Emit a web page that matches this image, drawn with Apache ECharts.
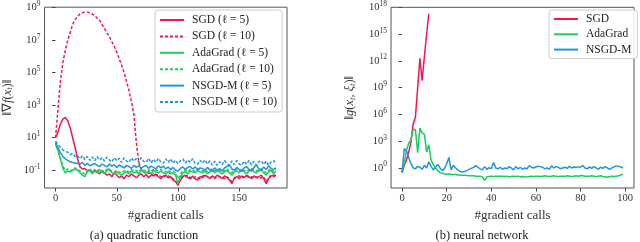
<!DOCTYPE html>
<html><head><meta charset="utf-8">
<script src="https://cdn.jsdelivr.net/npm/echarts@6/dist/echarts.min.js"></script>
<style>html,body{margin:0;padding:0;background:#fff}#c{width:640px;height:242px}</style>
</head><body><div id="c"></div><script>
// ---------- data: left panel (quadratic function) ----------
const xLeft = [0,2,4,6,8,10,12,14,16,18,20,22,24,26,28,30,32,34,36,38,40,42,44,46,48,50,52,54,56,58,60,62,64,66,68,70,72,74,76,78,80,82,84,86,88,90,92,94,96,98,100,102,104,106,108,110,112,114,116,118,120,122,124,126,128,130,132,134,136,138,140,142,144,146,148,150,152,154,156,158,160,162,164,166,168,170,172,174,176,178,180];
const sgd5 = [10,22,70,140,175,110,40,10,2.5,0.5,
  0.16,0.12,0.13,0.09,0.11,0.07,0.1,0.08,0.06,0.09,
  0.07,0.05,0.06,0.04,0.07,0.05,0.035,0.045,0.03,0.05,
  0.04,0.06,0.045,0.035,0.05,0.06,0.04,0.055,0.035,0.05,
  0.045,0.06,0.04,0.03,0.045,0.05,0.035,0.04,0.025,0.02,
  0.012,0.025,0.04,0.05,0.035,0.03,0.045,0.03,0.025,0.04,
  0.035,0.05,0.04,0.03,0.045,0.035,0.05,0.04,0.03,0.045,
  0.035,0.025,0.015,0.035,0.04,0.03,0.045,0.035,0.05,0.04,
  0.03,0.045,0.035,0.04,0.05,0.03,0.015,0.03,0.045,0.05,
  0.05];
const sgd10 = [10,600,3e4,4e5,2.5e6,1e7,3e7,9e7,1.8e8,2.8e8,
  4e8,4.8e8,5.2e8,5.2e8,4.8e8,4e8,3.2e8,2.2e8,1.6e8,9e7,
  5e7,2.8e7,1.6e7,8e6,4e6,1.8e6,7e5,2.8e5,1e5,2.8e4,
  8e3,1.6e3,250,5,0.3,0.12,0.08,0.06,0.07,0.05,
  0.06,0.045,0.055,0.04,0.035,0.05,0.045,0.04,0.03,0.02,
  0.015,0.03,0.045,0.04,0.05,0.035,0.03,0.04,0.035,0.03,
  0.045,0.05,0.04,0.035,0.04,0.03,0.045,0.04,0.035,0.03,
  0.04,0.03,0.02,0.03,0.04,0.045,0.035,0.04,0.045,0.035,
  0.04,0.035,0.04,0.03,0.035,0.04,0.02,0.035,0.05,0.04,
  0.045];
const ada5 = [4,1.6,0.45,0.13,0.07,0.09,0.08,0.1,0.12,0.1,
  0.07,0.05,0.04,0.08,0.1,0.06,0.09,0.07,0.1,0.08,
  0.06,0.1,0.12,0.07,0.06,0.08,0.06,0.05,0.07,0.08,
  0.06,0.09,0.07,0.08,0.06,0.1,0.08,0.07,0.09,0.06,
  0.1,0.08,0.07,0.09,0.07,0.06,0.08,0.06,0.07,0.05,
  0.015,0.04,0.07,0.08,0.06,0.09,0.08,0.07,0.1,0.08,
  0.07,0.09,0.06,0.08,0.1,0.07,0.09,0.08,0.06,0.08,
  0.1,0.07,0.05,0.08,0.09,0.07,0.1,0.08,0.06,0.09,
  0.11,0.08,0.07,0.09,0.1,0.07,0.05,0.08,0.1,0.06,
  0.09];
const ada10 = [5,2,0.6,0.18,0.1,0.12,0.09,0.11,0.14,0.12,
  0.09,0.07,0.06,0.1,0.12,0.08,0.11,0.09,0.12,0.1,
  0.08,0.12,0.1,0.09,0.08,0.1,0.08,0.07,0.09,0.1,
  0.08,0.11,0.09,0.1,0.08,0.12,0.1,0.09,0.11,0.08,
  0.12,0.1,0.09,0.11,0.09,0.08,0.1,0.08,0.09,0.07,
  0.03,0.06,0.09,0.1,0.08,0.11,0.1,0.09,0.12,0.1,
  0.09,0.11,0.08,0.1,0.12,0.09,0.11,0.1,0.08,0.1,
  0.12,0.09,0.07,0.1,0.11,0.09,0.12,0.1,0.08,0.11,
  0.13,0.1,0.09,0.11,0.12,0.09,0.07,0.1,0.12,0.08,
  0.11];
const nsgd5 = [5,2.5,1.2,0.7,0.5,0.4,0.33,0.3,0.28,0.26,
  0.24,0.3,0.2,0.27,0.19,0.22,0.26,0.2,0.17,0.24,
  0.2,0.16,0.24,0.18,0.22,0.15,0.21,0.17,0.14,0.2,
  0.17,0.13,0.2,0.15,0.19,0.13,0.17,0.2,0.13,0.18,
  0.15,0.12,0.19,0.14,0.18,0.12,0.16,0.11,0.15,0.1,
  0.09,0.13,0.16,0.11,0.15,0.17,0.12,0.16,0.11,0.14,
  0.13,0.1,0.15,0.11,0.09,0.14,0.1,0.13,0.09,0.14,
  0.17,0.21,0.12,0.1,0.15,0.11,0.09,0.14,0.17,0.11,
  0.09,0.15,0.21,0.12,0.1,0.16,0.11,0.19,0.13,0.11,
  0.14];
const nsgd10 = [6,4,2.5,1.8,1.4,1.3,0.9,1.1,0.7,0.8,
  0.5,0.8,0.45,0.7,0.4,0.65,0.38,0.7,0.42,0.6,
  0.36,0.65,0.42,0.32,0.6,0.38,0.55,0.3,0.58,0.36,
  0.3,0.58,0.36,0.52,0.3,0.6,0.35,0.3,0.55,0.28,
  0.48,0.3,0.55,0.32,0.27,0.5,0.3,0.5,0.26,0.42,
  0.25,0.38,0.5,0.27,0.44,0.3,0.52,0.27,0.23,0.42,
  0.27,0.44,0.24,0.38,0.21,0.36,0.2,0.34,0.22,0.4,
  0.25,0.2,0.38,0.22,0.4,0.24,0.2,0.37,0.23,0.4,
  0.21,0.35,0.2,0.33,0.4,0.22,0.37,0.2,0.33,0.4,
  0.22];
const xTicksLeft = [0,50,100,150];
const yTicksLeft = [1e-1,1e1,1e3,1e5,1e7,1e9];

// ---------- data: right panel (neural network) ----------
const xRight = [0,1,2,3,4,5,6,7,8,9,10,11,12,13,14,15,16,17,18,19,20,21,22,23,24,25,26,27,28,29,30,31,32,33,34,35,36,37,38,39,40,41,42,43,44,45,46,47,48,49,50,51,52,53,54,55,56,57,58,59,60,61,62,63,64,65,66,67,68,69,70,71,72,73,74,75,76,77,78,79,80,81,82,83,84,85,86,87,88,89,90,91,92,93,94,95,96,97,98,99];
const sgdNN = [0.3,2,8,60,800,1e5,5e5,1e9,2e12,6e9,3e12,1e15,2e17];
const adaNN = [0.3,3,100,600,1500,2e4,2e4,50,3e4,8000,
  6000,60,400,8,2.5,1,0.5,0.3,0.25,0.22,
  0.2,0.21,0.19,0.18,0.18,0.16,0.16,0.15,0.15,0.14,
  0.13,0.13,0.135,0.12,0.12,0.115,0.1,0.04,0.1,0.11,
  0.12,0.11,0.12,0.12,0.115,0.12,0.11,0.12,0.1,0.11,
  0.12,0.11,0.12,0.1,0.11,0.095,0.1,0.11,0.12,0.11,
  0.115,0.12,0.11,0.12,0.13,0.12,0.11,0.12,0.13,0.12,
  0.11,0.12,0.115,0.12,0.13,0.12,0.11,0.12,0.13,0.12,
  0.14,0.13,0.12,0.115,0.12,0.13,0.12,0.11,0.12,0.13,
  0.11,0.1,0.09,0.11,0.12,0.11,0.12,0.13,0.16,0.2];
const nsgdNN = [0.3,150,80,15,3,1,0.8,1.5,1.2,0.7,
  2,1,5,1.5,0.6,1.2,2.5,1.0,0.5,0.8,
  3,15,0.6,2,1,0.6,0.4,0.35,0.4,0.5,
  0.7,0.9,1.1,1.8,1.2,0.8,0.6,1.4,0.7,1.1,
  0.8,4,1.0,0.8,1.2,0.7,1.0,0.8,1.4,1.0,
  0.6,1.4,0.8,1.2,0.7,1.0,0.8,1.8,1.2,1.0,
  1.3,1.6,1.4,1.2,0.8,1.0,0.7,1.7,1.0,1.4,
  1.2,0.8,1.0,1.2,0.9,1.5,1.0,1.3,1.1,1.4,
  1.2,1.9,1.0,0.8,1.3,0.9,1.4,1.0,0.7,1.2,
  0.9,1.4,1.0,0.7,1.0,1.3,1.7,1.5,1.3,1.0];
const xTicksRight = [0,20,40,60,80,100];
const yTicksRight = [1,1e3,1e6,1e9,1e12,1e15,1e18];

// ---------- styling ----------
const FONT = 'Liberation Serif';
const RED = '#f0174f', GREEN = '#1ecb5e', BLUE = '#1d95e0';
const TXT = '#333';
const pairs = (xs, ys) => ys.map((v, i) => [xs[i], v]);
const supRich = {
  b: {fontFamily: FONT, fontSize: 10.5, color: TXT},
  s: {fontFamily: FONT, fontSize: 7.5, color: TXT, padding: [0, 0, 7, 0]}
};
const supFmt = v => '{b|10}{s|' + Math.round(Math.log10(v)) + '}';

function xAxisCfg(grid, min, max, ticks) {
  return {
    type: 'value', gridIndex: grid, min, max,
    axisLine: {show: false}, splitLine: {show: false},
    axisTick: {show: true, length: 3.5, customValues: ticks, lineStyle: {color: '#444'}},
    axisLabel: {customValues: ticks, fontFamily: FONT, fontSize: 10.5, color: TXT, margin: 5},
    name: '#gradient calls', nameLocation: 'middle', nameGap: 21,
    nameTextStyle: {fontFamily: FONT, fontSize: 13, color: TXT}
  };
}
function yAxisCfg(grid, min, max, ticks, name, nameGap, rich) {
  return {
    type: 'log', logBase: 10, gridIndex: grid, min, max,
    axisLine: {show: false}, splitLine: {show: false}, minorTick: {show: false},
    axisTick: {show: true, length: 3.5, customValues: ticks, lineStyle: {color: '#444'}},
    axisLabel: {customValues: ticks, formatter: supFmt, rich: supRich, margin: 4},
    name, nameLocation: 'middle', nameGap,
    nameTextStyle: {fontFamily: FONT, fontSize: 12.5, color: TXT, rich}
  };
}
const nameRich = {
  a: {fontFamily: FONT, fontSize: 12.5, color: TXT},
  i: {fontFamily: FONT, fontSize: 12.5, fontStyle: 'italic', color: TXT},
  t: {fontFamily: FONT, fontSize: 8.5, fontStyle: 'italic', color: TXT, padding: [5, 0, 0, 0]}
};
function line(name, xi, yi, xs, ys, color, dashed) {
  return {
    name, type: 'line', xAxisIndex: xi, yAxisIndex: yi,
    data: pairs(xs, ys), showSymbol: false, symbol: 'none',
    lineStyle: {width: 1.5, color, type: dashed ? [3, 2] : 'solid'},
    itemStyle: {color}, clip: true, animation: false
  };
}
const legendBase = {
  orient: 'vertical', itemWidth: 24, itemHeight: 12,
  itemStyle: {opacity: 0},
  textStyle: {fontFamily: FONT, fontSize: 11.5, color: '#222', lineHeight: 12, padding: [0, 0, 0, 3]},
  borderColor: '#ccc', borderWidth: 1, borderRadius: 3,
  backgroundColor: 'rgba(255,255,255,0.85)', selectedMode: false
};

const chart = echarts.init(document.getElementById('c'), null, {renderer: 'canvas'});
chart.setOption({
  animation: false,
  grid: [
    {left: 40, top: 5, width: 247, height: 183, show: true, borderColor: '#555', borderWidth: 1, backgroundColor: 'transparent'},
    {left: 391, top: 5, width: 243, height: 183, show: true, borderColor: '#555', borderWidth: 1, backgroundColor: 'transparent'}
  ],
  xAxis: [
    xAxisCfg(0, -9, 189, xTicksLeft),
    xAxisCfg(1, -4.95, 103.95, xTicksRight)
  ],
  yAxis: [
    yAxisCfg(0, Math.pow(10, -2.09), Math.pow(10, 9.02), yTicksLeft,
      '{a|‖∇}{i|f}{a|(}{i|x}{t|t}{a|)‖}', 30, nameRich),
    yAxisCfg(1, Math.pow(10, -2.25), Math.pow(10, 18.02), yTicksRight,
      '{a|‖}{i|g}{a|(}{i|x}{t|t}{a|, }{i|ξ}{t|t}{a|)‖}', 34, nameRich)
  ],
  legend: [
    Object.assign({}, legendBase, {
      left: 155, top: 10, padding: [4, 5, 4, 4], itemGap: 4.4,
      data: ['SGD (ℓ = 5)', 'SGD (ℓ = 10)', 'AdaGrad (ℓ = 5)', 'AdaGrad (ℓ = 10)', 'NSGD-M (ℓ = 5)', 'NSGD-M (ℓ = 10)']
    }),
    Object.assign({}, legendBase, {
      left: 549, top: 10, padding: [3, 6, 3, 4], itemGap: 3.3,
      data: ['SGD', 'AdaGrad', 'NSGD-M']
    })
  ],
  series: [
    line('SGD (ℓ = 5)', 0, 0, xLeft, sgd5, RED, false),
    line('SGD (ℓ = 10)', 0, 0, xLeft, sgd10, RED, true),
    line('AdaGrad (ℓ = 5)', 0, 0, xLeft, ada5, GREEN, false),
    line('AdaGrad (ℓ = 10)', 0, 0, xLeft, ada10, GREEN, true),
    line('NSGD-M (ℓ = 5)', 0, 0, xLeft, nsgd5, BLUE, false),
    line('NSGD-M (ℓ = 10)', 0, 0, xLeft, nsgd10, BLUE, true),
    line('SGD', 1, 1, xRight, sgdNN, RED, false),
    line('AdaGrad', 1, 1, xRight, adaNN, GREEN, false),
    line('NSGD-M', 1, 1, xRight, nsgdNN, BLUE, false)
  ],
  graphic: [
    {type: 'text', x: 144, y: 236, style: {text: '(a) quadratic function', font: '12.5px "Liberation Serif"', fill: '#222', textAlign: 'center', textVerticalAlign: 'middle'}},
    {type: 'text', x: 482, y: 236, style: {text: '(b) neural network', font: '12.5px "Liberation Serif"', fill: '#222', textAlign: 'center', textVerticalAlign: 'middle'}}
  ]
});
</script></body></html>
